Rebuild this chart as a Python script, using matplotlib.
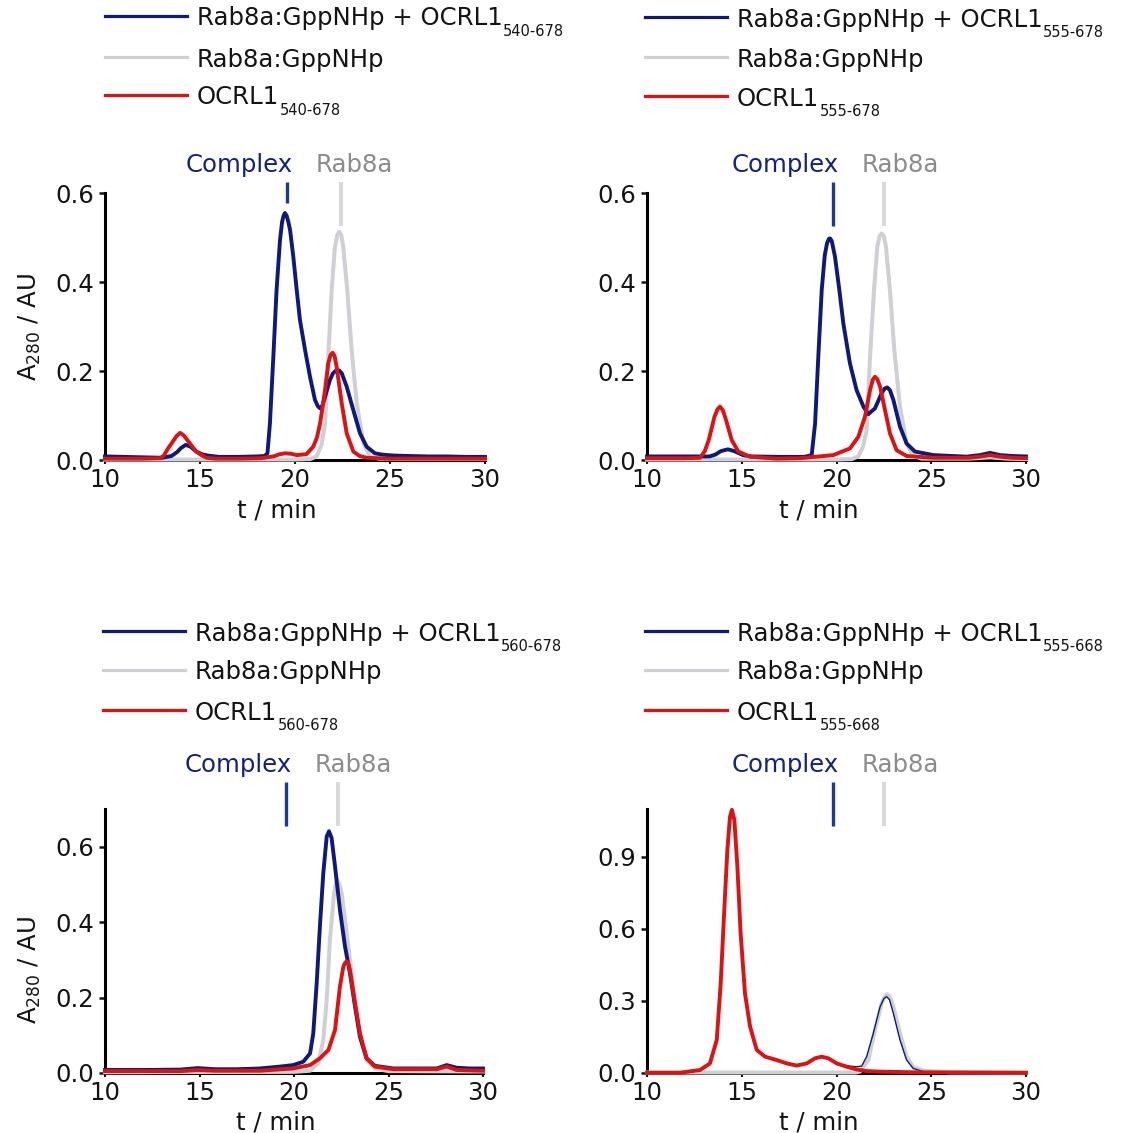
import matplotlib
matplotlib.use("Agg")
import matplotlib.pyplot as plt
from matplotlib.lines import Line2D
from matplotlib.ticker import FormatStrFormatter
from matplotlib.transforms import blended_transform_factory

# the original lettering is a horizontally stretched Helvetica; DejaVu Sans is the closest in width
plt.rcParams['font.family'] = ['DejaVu Sans']
plt.rcParams['mathtext.fontset'] = 'dejavusans'

# --- data (t in min, A280 in AU) ---

# panel 1: OCRL1 540-678
t1_cx = [10, 11, 12, 13, 13.5, 13.8, 14.0, 14.25, 14.5, 14.8, 15.1, 15.4, 16, 17, 18, 18.4, 18.55,
         18.68, 18.86, 19.03, 19.21, 19.32, 19.4, 19.47, 19.56, 19.65, 19.74, 19.91, 20.09, 20.26,
         20.53, 20.79, 21.05, 21.2, 21.32, 21.45, 21.58, 21.84, 22.0, 22.19, 22.33, 22.46, 22.72,
         23.07, 23.42, 23.77, 24.21, 24.6, 25.2, 26, 27, 28, 29, 30]
a1_cx = [0.008, 0.007, 0.006, 0.005, 0.009, 0.018, 0.027, 0.034, 0.03, 0.019, 0.013, 0.01, 0.007,
         0.007, 0.008, 0.009, 0.015, 0.082, 0.232, 0.382, 0.494, 0.535, 0.549, 0.555, 0.549, 0.535,
         0.517, 0.457, 0.382, 0.315, 0.247, 0.187, 0.135, 0.121, 0.116, 0.123, 0.142, 0.18, 0.195,
         0.202, 0.201, 0.195, 0.165, 0.112, 0.06, 0.03, 0.015, 0.012, 0.01, 0.009, 0.008, 0.008,
         0.007, 0.007]
t1_rab = [10, 20, 20.8, 21.14, 21.4, 21.58, 21.75, 21.93, 22.1, 22.22, 22.33, 22.44, 22.54, 22.75,
          22.98, 23.25, 23.6, 23.95, 24.4, 26, 30]
a1_rab = [0.001, 0.001, 0.002, 0.008, 0.035, 0.082, 0.232, 0.382, 0.479, 0.505, 0.513, 0.505,
          0.479, 0.382, 0.247, 0.127, 0.037, 0.008, 0.003, 0.002, 0.002]
t1_oc = [10, 12, 12.9, 13.1, 13.3, 13.5, 13.75, 13.95, 14.15, 14.4, 14.8, 15.1, 15.35, 15.8, 17,
         18.2, 18.86, 19.2, 19.47, 19.8, 20.09, 20.6, 20.96, 21.15, 21.32, 21.58, 21.75, 21.87,
         21.98, 22.08, 22.19, 22.46, 22.72, 23.07, 23.4, 23.77, 25, 30]
a1_oc = [0.003, 0.003, 0.004, 0.01, 0.025, 0.037, 0.053, 0.061, 0.055, 0.041, 0.019, 0.01, 0.005,
         0.003, 0.003, 0.004, 0.008, 0.013, 0.015, 0.014, 0.011, 0.013, 0.03, 0.05, 0.082, 0.157,
         0.217, 0.236, 0.241, 0.234, 0.21, 0.127, 0.06, 0.019, 0.009, 0.005, 0.003, 0.003]

# panel 2: OCRL1 555-678
t2_cx = [10, 12, 13.3, 13.6, 13.9, 14.27, 14.6, 15.07, 15.5, 17, 18.3, 18.69, 18.87, 19.04, 19.22,
         19.38, 19.5, 19.6, 19.66, 19.75, 19.92, 20.15, 20.36, 20.71, 21.06, 21.42, 21.68, 22.03,
         22.38, 22.55, 22.68, 22.82, 23.0, 23.35, 23.7, 24.14, 25.11, 26.87, 27.57, 28.1, 28.63,
         29.3, 30]
a2_cx = [0.008, 0.008, 0.008, 0.012, 0.02, 0.024, 0.02, 0.011, 0.008, 0.007, 0.007, 0.011, 0.082,
         0.232, 0.382, 0.46, 0.487, 0.497, 0.498, 0.492, 0.457, 0.382, 0.307, 0.217, 0.157, 0.12,
         0.103, 0.116, 0.15, 0.161, 0.163, 0.157, 0.135, 0.075, 0.037, 0.019, 0.011, 0.0075, 0.011,
         0.016, 0.011, 0.009, 0.008]
t2_rab = [10, 20, 20.8, 21.15, 21.4, 21.59, 21.77, 21.98, 22.15, 22.27, 22.38, 22.5, 22.61, 22.82,
          23.05, 23.35, 23.7, 24.05, 24.5, 27, 28.1, 29, 30]
a2_rab = [0.001, 0.001, 0.002, 0.008, 0.03, 0.067, 0.232, 0.382, 0.479, 0.503, 0.509, 0.503,
          0.479, 0.382, 0.247, 0.12, 0.037, 0.009, 0.003, 0.003, 0.006, 0.003, 0.002]
t2_oc = [10, 12, 12.8, 13.05, 13.26, 13.56, 13.72, 13.85, 14.0, 14.17, 14.47, 14.82, 15.43, 16.8,
         18.07, 19.83, 20.71, 21.15, 21.5, 21.77, 21.92, 22.03, 22.15, 22.3, 22.56, 22.82, 23.17,
         23.7, 25.1, 27.0, 27.57, 28.1, 28.6, 29.3, 30]
a2_oc = [0.004, 0.004, 0.005, 0.02, 0.045, 0.097, 0.114, 0.12, 0.112, 0.09, 0.045, 0.019, 0.0075,
         0.003, 0.004, 0.011, 0.026, 0.052, 0.097, 0.157, 0.181, 0.187, 0.182, 0.165, 0.112, 0.06,
         0.022, 0.009, 0.005, 0.005, 0.0075, 0.011, 0.0075, 0.005, 0.004]

# panel 3: OCRL1 560-678
t3_cx = [10, 12, 14, 14.9, 15.8, 17, 18.2, 19.26, 19.96, 20.49, 20.85, 21.02, 21.2, 21.37, 21.55,
         21.73, 21.85, 21.99, 22.17, 22.43, 22.7, 22.96, 23.23, 23.49, 23.84, 24.28, 25.25, 27.55,
         28.08, 28.6, 29.3, 30]
a3_cx = [0.008, 0.008, 0.009, 0.013, 0.01, 0.01, 0.012, 0.017, 0.021, 0.03, 0.052, 0.105, 0.238,
         0.388, 0.53, 0.627, 0.641, 0.623, 0.548, 0.433, 0.335, 0.265, 0.176, 0.096, 0.039, 0.019,
         0.012, 0.012, 0.021, 0.014, 0.012, 0.012]
t3_rab = [10, 20, 20.85, 21.29, 21.55, 21.73, 21.9, 22.12, 22.2, 22.29, 22.4, 22.52, 22.75, 22.96,
          23.23, 23.49, 23.84, 24.28, 25, 30]
a3_rab = [0.002, 0.003, 0.006, 0.026, 0.088, 0.194, 0.353, 0.477, 0.5, 0.512, 0.5, 0.477, 0.388,
          0.3, 0.185, 0.096, 0.035, 0.012, 0.005, 0.004]
t3_oc = [10, 14, 14.9, 15.8, 17, 18.2, 19.96, 20.85, 21.37, 21.82, 22.17, 22.43, 22.61, 22.7,
         22.79, 22.88, 22.96, 23.23, 23.49, 23.84, 24.28, 25.25, 27.55, 28.08, 28.6, 30]
a3_oc = [0.005, 0.005, 0.008, 0.006, 0.006, 0.006, 0.012, 0.021, 0.039, 0.061, 0.114, 0.229,
         0.282, 0.292, 0.296, 0.29, 0.273, 0.185, 0.105, 0.039, 0.017, 0.01, 0.01, 0.017, 0.008,
         0.006]

# panel 4: OCRL1 555-668
t4_cx = [10, 11.74, 12.8, 13.32, 13.68, 13.89, 14.06, 14.24, 14.38, 14.48, 14.61, 14.77, 14.94,
         15.17, 15.44, 15.79, 16.23, 16.84, 17.37, 17.9, 18.43, 18.86, 19.22, 19.57, 20.01, 20.54,
         21.06, 21.33, 21.59, 21.94, 22.3, 22.5, 22.65, 22.8, 23.0, 23.35, 23.7, 24.05, 24.58, 26,
         30]
a4_cx = [0.001, 0.001, 0.0125, 0.04, 0.1375, 0.374, 0.651, 0.929, 1.07, 1.1, 1.058, 0.86, 0.582,
         0.332, 0.193, 0.096, 0.068, 0.054, 0.04, 0.031, 0.04, 0.061, 0.068, 0.061, 0.04, 0.03,
         0.026, 0.029, 0.068, 0.165, 0.276, 0.31, 0.318, 0.305, 0.249, 0.1375, 0.054, 0.019, 0.006,
         0.002, 0.001]
t4_rab = [10, 21, 21.24, 21.68, 22.03, 22.38, 22.55, 22.68, 22.82, 23.0, 23.35, 23.7, 24.05, 24.58,
          26, 30]
a4_rab = [0.002, 0.002, 0.006, 0.054, 0.179, 0.29, 0.32, 0.328, 0.318, 0.276, 0.165, 0.068, 0.026,
          0.01, 0.003, 0.002]
t4_oc = [10, 11.74, 12.8, 13.32, 13.68, 13.89, 14.06, 14.24, 14.38, 14.48, 14.61, 14.77, 14.94,
         15.17, 15.44, 15.79, 16.23, 16.84, 17.37, 17.9, 18.43, 18.86, 19.22, 19.57, 20.01, 20.54,
         21.06, 21.59, 22.3, 24.05, 30]
a4_oc = [0.001, 0.001, 0.0125, 0.04, 0.1375, 0.374, 0.651, 0.929, 1.068, 1.096, 1.054, 0.86, 0.582,
         0.332, 0.193, 0.096, 0.068, 0.054, 0.04, 0.031, 0.04, 0.061, 0.068, 0.061, 0.04, 0.026,
         0.015, 0.008, 0.0056, 0.003, 0.001]

legend_main = ["Rab8a:GppNHp + OCRL1", "Rab8a:GppNHp", "OCRL1"]
constructs = ["540-678", "555-678", "560-678", "555-668"]
complex_t = [19.6, 19.8, 19.6, 19.8]
rab8a_t = [22.4, 22.5, 22.35, 22.5]
yticks = [[0, 0.2, 0.4, 0.6], [0, 0.2, 0.4, 0.6], [0, 0.2, 0.4, 0.6], [0, 0.3, 0.6, 0.9]]
ytop = [0.6, 0.6, 0.7, 1.1]

curves = [
    ((t1_rab, a1_rab), (t1_cx, a1_cx), (t1_oc, a1_oc)),
    ((t2_rab, a2_rab), (t2_cx, a2_cx), (t2_oc, a2_oc)),
    ((t3_rab, a3_rab), (t3_cx, a3_cx), (t3_oc, a3_oc)),
    ((t4_rab, a4_rab), (t4_cx, a4_cx), (t4_oc, a4_oc)),
]

NAVY = "#0f1a78"
GRAY = "#cfd0d4"
RED = "#de1212"
INK = "#141414"
FS = 17.6
FS_SUB = 10.5

W, H = 1126, 1133
fig = plt.figure(figsize=(W / 100, H / 100), dpi=100)
fig.patch.set_facecolor("white")


def fx(px):
    return px / W


def fy(py):
    return 1 - py / H


# axes boxes in pixels: left, right, top, bottom
boxes = [(105, 485, 193, 460), (647, 1026, 193, 460), (105, 483, 809, 1073), (647, 1026, 809, 1073)]
# legend anchor: x of line start, y of the three rows
legend_pos = [(105, [16, 57, 95]), (645, [17, 57, 96]), (103, [631, 670, 710]), (645, [631, 670, 710])]
# marker labels: baseline y, tick top, tick bottom (complex, rab8a)
marker_y = [(172, 182, 203, 226), (172, 182, 226, 226), (772, 782, 826, 826), (772, 782, 826, 826)]

for i in range(4):
    l, r, t, b = boxes[i]
    ax = fig.add_axes([fx(l), fy(b), (r - l) / W, (b - t) / H])
    rab, cx, oc = curves[i]
    ax.plot(*rab, color=GRAY, lw=2.9, zorder=3, clip_on=False, solid_joinstyle='round')
    ax.plot(*cx, color=NAVY, lw=1.0 if i == 3 else 2.8, zorder=4, clip_on=False,
            solid_joinstyle='round')
    ax.plot(*oc, color=RED, lw=2.8, zorder=5, clip_on=False, solid_joinstyle='round')

    ax.set_xlim(10, 30)
    ax.set_ylim(0, ytop[i])
    ax.set_xticks([10, 15, 20, 25, 30])
    ax.set_yticks(yticks[i])
    ax.yaxis.set_major_formatter(FormatStrFormatter('%.1f'))
    for s in ["top", "right"]:
        ax.spines[s].set_visible(False)
    for s in ["left", "bottom"]:
        ax.spines[s].set_linewidth(2.2)
        ax.spines[s].set_color("black")
    ax.tick_params(axis='y', length=4, width=1.8, pad=4, labelsize=FS, colors=INK)
    ax.tick_params(axis='x', length=3, width=1.5, pad=3, labelsize=FS, colors=INK)
    ax.patch.set_alpha(0)

    ax.set_xlabel("t / min", fontsize=FS, color=INK)
    ax.xaxis.set_label_coords(0.453, -38 / (b - t))
    if i in (0, 2):
        ax.set_ylabel("A$_{280}$ / AU", fontsize=FS, color=INK)
        ax.yaxis.set_label_coords(-62 / (r - l), 0.5 if i == 0 else 0.39)

    # complex / rab8a markers above the plot
    tr = blended_transform_factory(ax.transData, fig.transFigure)
    base, top, cbot, rbot = marker_y[i]
    ax.plot([complex_t[i]] * 2, [fy(top), fy(cbot)], color="#1c3a8e", lw=2.4,
            transform=tr, clip_on=False, solid_capstyle='butt')
    ax.plot([rab8a_t[i]] * 2, [fy(top), fy(rbot)], color="#d9d9db", lw=2.9,
            transform=tr, clip_on=False, solid_capstyle='butt')
    ax.text(complex_t[i] + 0.3, fy(base), "Complex", color="#17207f", fontsize=FS,
            ha='right', va='baseline', transform=tr)
    ax.text(complex_t[i] + 1.5, fy(base), "Rab8a", color="#8c8c8c", fontsize=FS,
            ha='left', va='baseline', transform=tr)

    # legend drawn by hand so the subscripts sit like the original
    lx, rows = legend_pos[i]
    for j, (lab, col) in enumerate(zip(legend_main, [NAVY, GRAY, RED])):
        y = rows[j]
        fig.add_artist(Line2D([fx(lx), fx(lx + 82)], [fy(y), fy(y)], color=col, lw=2.3))
        txt = fig.text(fx(lx + 92), fy(y + 9.5), lab, fontsize=FS, color=INK,
                       ha='left', va='baseline')
        if j != 1:
            ax.annotate(constructs[i], xy=(1, 0), xycoords=txt, xytext=(0.3, -3.8),
                        textcoords='offset points', fontsize=FS_SUB, color=INK,
                        ha='left', va='baseline', annotation_clip=False)

fig.savefig("out.png", dpi=100, facecolor="white")
